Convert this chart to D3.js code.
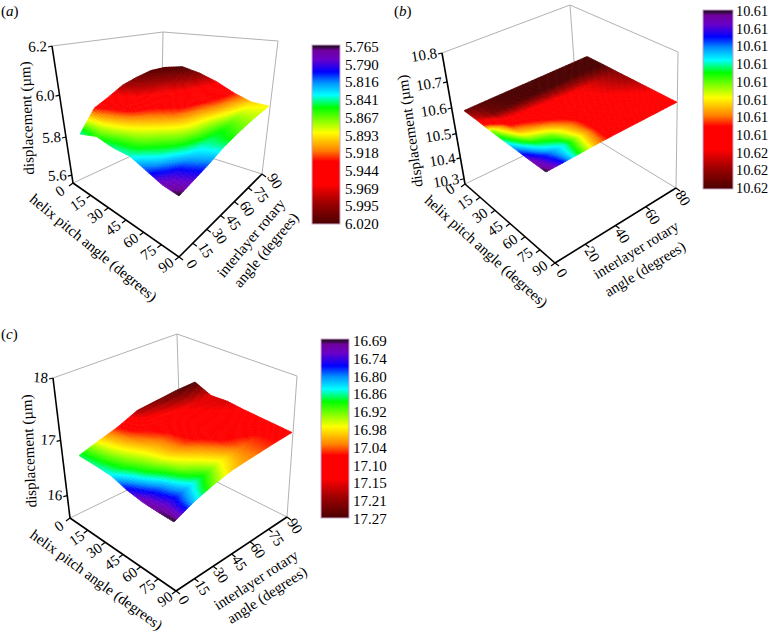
<!DOCTYPE html>
<html>
<head>
<meta charset="utf-8">
<script src="https://cdn.jsdelivr.net/npm/d3@7"></script>
<style>
  html, body { margin: 0; background: #fff; }
  svg { display: block; }
  text { font-family: "Liberation Serif", serif; font-size: 15px; fill: #000; }
</style>
</head>
<body>
<div id="chart"></div>
<script>
// Tick labels and grid positions
const helixAngles = [0, 15, 30, 45, 60, 75, 90];
const rotaryAngles = [0, 15, 30, 45, 60, 75, 90];
const rotaryAnglesB = [0, 10, 20, 30, 40, 60, 80];
const rotaryTicksB = [0, 20, 40, 60, 80];

const zTicksA = [5.6, 5.8, 6.0, 6.2];
const zTicksB = [10.3, 10.4, 10.5, 10.6, 10.7, 10.8];
const zTicksC = [16, 17, 18];

const legendA = ["5.765", "5.790", "5.816", "5.841", "5.867", "5.893", "5.918", "5.944", "5.969", "5.995", "6.020"];
const legendB = ["10.61", "10.61", "10.61", "10.61", "10.61", "10.61", "10.61", "10.61", "10.62", "10.62", "10.62"];
const legendC = ["16.69", "16.74", "16.80", "16.86", "16.92", "16.98", "17.04", "17.10", "17.15", "17.21", "17.27"];

const displacementA = [
    [5.840, 5.930, 5.958, 5.990, 6.005, 6.015, 6.010],
    [5.860, 5.900, 5.945, 5.970, 5.985, 5.998, 6.020],
    [5.844, 5.880, 5.910, 5.932, 5.955, 5.980, 6.000],
    [5.840, 5.865, 5.885, 5.915, 5.938, 5.950, 5.970],
    [5.810, 5.840, 5.865, 5.885, 5.895, 5.920, 5.930],
    [5.780, 5.800, 5.830, 5.845, 5.855, 5.875, 5.900],
    [5.765, 5.790, 5.815, 5.845, 5.865, 5.880, 5.890]
];
const displacementB = [
    [10.6195, 10.6198, 10.6200, 10.6200, 10.6200, 10.6200, 10.6200],
    [10.6180, 10.6194, 10.6198, 10.6199, 10.6200, 10.6200, 10.6200],
    [10.6142, 10.6168, 10.6172, 10.6174, 10.6176, 10.6180, 10.6192],
    [10.6130, 10.6152, 10.6160, 10.6167, 10.6172, 10.6178, 10.6188],
    [10.6118, 10.6134, 10.6142, 10.6156, 10.6168, 10.6172, 10.6182],
    [10.6106, 10.6120, 10.6130, 10.6150, 10.6168, 10.6170, 10.6176],
    [10.6100, 10.6114, 10.6135, 10.6155, 10.6168, 10.6170, 10.6172]
];
const displacementC = [
    [16.88, 16.98, 17.07, 17.20, 17.23, 17.26, 17.27],
    [16.87, 16.96, 17.04, 17.09, 17.13, 17.16, 17.16],
    [16.85, 16.93, 17.00, 17.06, 17.12, 17.14, 17.17],
    [16.77, 16.89, 16.98, 17.05, 17.10, 17.11, 17.14],
    [16.72, 16.82, 16.94, 17.00, 17.07, 17.09, 17.12],
    [16.70, 16.79, 16.87, 16.96, 17.03, 17.06, 17.10],
    [16.69, 16.83, 16.93, 17.00, 17.03, 17.06, 17.08]
];

// Rainbow colormap of the legend bars
const colorStops = [0, 0.015, 0.03, 0.08, 0.15, 0.21, 0.28, 0.35, 0.49, 0.59, 0.65, 0.78, 0.88, 1];
const colorValues = ["#1a0a1a", "#3a0a4a", "#70009c", "#6a00c8", "#0000ff", "#0090ff", "#00ffff", "#00ff00", "#ffff00", "#ff8000", "#ff0000", "#ff0000", "#a00000", "#4a0000"];

const width = 770, height = 638;

const svg = d3.select("#chart").append("svg")
    .attr("width", width)
    .attr("height", height);

const defs = svg.append("defs");

defs.append("filter")
    .attr("id", "soft")
    .append("feGaussianBlur")
    .attr("stdDeviation", 0.6);

// Layout of each panel: box corners, surface corners, legend and text placement
const panels = [
    {
        id: "a", label: [1, 16],
        h: helixAngles, r: rotaryAngles, rTicks: rotaryAngles, rMax: 90, grid: displacementA,
        zTicks: zTicksA, zFrac: [0.058, 0.336, 0.642, 1], zAngle: -3,
        hOff: [-13, 8], rOff: [13, 7],
        box: { L: [73, 183], F: [179, 257], R: [262, 174], B: [161, 142], Lt: [52, 46], Bt: [163, 32], Rt: [278, 41] },
        surf: { L: [80, 152], F: [179, 196], R: [269, 136], B: [165, 126] }, zPx: 61,
        legend: { x: 312, y0: 45, y1: 224, w: 28, labels: legendA, ly0: 47, ly1: 224, lx: 345, size: 15 },
        hTitle: { pos: [32, 197], angle: 39.5 },
        rTitle: { l1: [251, 238], l2: [266, 250], angle: -50 },
        zTitle: { pos: [27, 118], angle: -92 }
    },
    {
        id: "b", label: [394, 16],
        h: helixAngles, r: rotaryAnglesB, rTicks: rotaryTicksB, rMax: 80, grid: displacementB,
        zTicks: zTicksB, zFrac: [0.04, 0.2, 0.385, 0.58, 0.78, 1], zAngle: -9,
        hOff: [-15, 5], rOff: [7, 10],
        box: { L: [465, 184], F: [555, 263], R: [676, 188], B: [579, 129], Lt: [442, 53], Bt: [570, 5], Rt: [678, 52] },
        surf: { L: [464, 113], F: [546, 172], R: [677, 104], B: [587, 59] }, zPx: 2.5,
        legend: { x: 703, y0: 10, y1: 189, w: 30, labels: legendB, ly0: 11, ly1: 188, lx: 736, size: 14.3 },
        hTitle: { pos: [427, 198], angle: 42 },
        rTitle: { l1: [636, 250], l2: [645, 269], angle: -31.5 },
        zTitle: { pos: [410, 131], angle: -98 }
    },
    {
        id: "c", label: [1, 339],
        h: helixAngles, r: rotaryAngles, rTicks: rotaryAngles, rMax: 90, grid: displacementC,
        zTicks: zTicksC, zFrac: [0.16, 0.555, 1], zAngle: 4,
        hOff: [-11, 8], rOff: [8, 9],
        box: { L: [70, 518], F: [176, 591], R: [287, 517], B: [181, 464], Lt: [53, 378], Bt: [177, 334], Rt: [297, 376] },
        surf: { L: [79, 468], F: [174, 522], R: [292, 458], B: [195, 420] }, zPx: 38,
        legend: { x: 321, y0: 339, y1: 518, w: 28, labels: legendC, ly0: 341, ly1: 519, lx: 353, size: 15 },
        hTitle: { pos: [32, 533], angle: 36 },
        rTitle: { l1: [256, 580], l2: [267, 595], angle: -33 },
        zTitle: { pos: [29, 451], angle: -92.5 }
    }
];

const lerp = (a, b, t) => [a[0] + (b[0] - a[0]) * t, a[1] + (b[1] - a[1]) * t];

function drawPanel(p) {
    const g = svg.append("g").attr("class", "panel-" + p.id);
    const zValues = p.grid.flat();
    const zMin = d3.min(zValues), zMax = d3.max(zValues);

    // Scales
    const u = d3.scaleLinear().domain([0, 90]).range([0, 1]);
    const v = d3.scaleLinear().domain([0, p.rMax]).range([0, 1]);
    const lift = d3.scaleLinear().domain([zMin, zMax]).range([0, p.zPx]);
    const zAxis = d3.scaleLinear().domain(p.zTicks).range(p.zFrac);
    const toValue = d3.scaleLinear().domain([0, 1]).range([zMin, zMax]);
    const color = d3.scaleLinear()
        .domain(colorStops.map(toValue))
        .range(colorValues)
        .clamp(true);

    // Grey box behind the surface
    const b = p.box;
    [[b.L, b.B], [b.B, b.R], [b.Lt, b.Bt], [b.Bt, b.Rt], [b.B, b.Bt], [b.R, b.Rt]].forEach(s => {
        g.append("line")
            .attr("x1", s[0][0]).attr("y1", s[0][1])
            .attr("x2", s[1][0]).attr("y2", s[1][1])
            .attr("stroke", "#a8a8a8")
            .attr("stroke-width", 0.9);
    });

    // Surface: every grid cell is split up so the colour runs smoothly, back to front
    const s = p.surf;
    const project = (uu, vv, z) => {
        const pt = lerp(lerp(s.L, s.F, uu), lerp(s.B, s.R, uu), vv);
        return [pt[0], pt[1] - lift(z)];
    };
    const sub = 10;
    const cells = [];
    for (let i = 0; i < p.h.length - 1; i++) {
        for (let j = p.r.length - 2; j >= 0; j--) {
            const z00 = p.grid[i][j], z01 = p.grid[i][j + 1], z10 = p.grid[i + 1][j], z11 = p.grid[i + 1][j + 1];
            const zAt = (a, c) => z00 * (1 - a) * (1 - c) + z01 * (1 - a) * c + z10 * a * (1 - c) + z11 * a * c;
            const uAt = a => u(p.h[i] + (p.h[i + 1] - p.h[i]) * a);
            const vAt = c => v(p.r[j] + (p.r[j + 1] - p.r[j]) * c);
            for (let m = 0; m < sub; m++) {
                for (let n = sub - 1; n >= 0; n--) {
                    const a0 = m / sub, a1 = (m + 1) / sub, c0 = n / sub, c1 = (n + 1) / sub;
                    cells.push({
                        pts: [[a0, c0], [a0, c1], [a1, c1], [a1, c0]].map(q => project(uAt(q[0]), vAt(q[1]), zAt(q[0], q[1]))),
                        z: zAt((a0 + a1) / 2, (c0 + c1) / 2)
                    });
                }
            }
        }
    }
    g.append("g")
        .attr("filter", "url(#soft)")
        .selectAll("polygon")
        .data(cells)
        .enter()
        .append("polygon")
        .attr("points", d => d.pts.map(q => q.join(",")).join(" "))
        .attr("fill", d => color(d.z))
        .attr("stroke", d => color(d.z))
        .attr("stroke-width", 0.7)
        .attr("stroke-linejoin", "round");

    // Black axes
    [[b.L, b.Lt], [b.L, b.F], [b.F, b.R]].forEach(a => {
        g.append("line")
            .attr("x1", a[0][0]).attr("y1", a[0][1])
            .attr("x2", a[1][0]).attr("y2", a[1][1])
            .attr("stroke", "#000")
            .attr("stroke-width", 1.6);
    });

    const tick = (pt, dx, dy) => g.append("line")
        .attr("x1", pt[0]).attr("y1", pt[1])
        .attr("x2", pt[0] + dx).attr("y2", pt[1] + dy)
        .attr("stroke", "#000")
        .attr("stroke-width", 1.2);

    const label = (pt, txt, angle, anchor) => g.append("text")
        .attr("transform", `translate(${pt[0]},${pt[1]}) rotate(${angle})`)
        .attr("text-anchor", anchor || "middle")
        .attr("dominant-baseline", "central")
        .text(txt);

    // Helix pitch axis
    p.h.forEach(d => {
        const pt = lerp(b.L, b.F, u(d));
        tick(pt, -4, 3);
        label([pt[0] + p.hOff[0], pt[1] + p.hOff[1]], d, -35);
    });

    // Rotary axis
    p.rTicks.forEach(d => {
        const pt = lerp(b.F, b.R, v(d));
        tick(pt, 4, 3);
        label([pt[0] + p.rOff[0], pt[1] + p.rOff[1]], d, 58);
    });

    // Displacement axis
    p.zTicks.forEach(d => {
        const pt = lerp(b.L, b.Lt, zAxis(d));
        tick(pt, -4, 1);
        label([pt[0] - 5, pt[1]], d.toFixed(p.id === "c" ? 0 : 1), p.zAngle, "end");
    });

    // Titles
    label(p.hTitle.pos, "helix pitch angle (degrees)", p.hTitle.angle, "start");
    label(p.rTitle.l1, "interlayer rotary", p.rTitle.angle);
    label(p.rTitle.l2, "angle (degrees)", p.rTitle.angle);
    label(p.zTitle.pos, "displacement (\u00b5m)", p.zTitle.angle);

    // Panel letter
    const tag = g.append("text")
        .attr("x", p.label[0])
        .attr("y", p.label[1]);
    tag.append("tspan").text("(");
    tag.append("tspan").attr("font-style", "italic").text(p.id);
    tag.append("tspan").text(")");

    // Legend bar
    const l = p.legend;
    const grad = defs.append("linearGradient")
        .attr("id", "bar-" + p.id)
        .attr("x1", 0).attr("y1", 0)
        .attr("x2", 0).attr("y2", 1);
    colorStops.forEach((t, i) => {
        grad.append("stop")
            .attr("offset", t)
            .attr("stop-color", colorValues[i]);
    });
    g.append("rect")
        .attr("x", l.x).attr("y", l.y0)
        .attr("width", l.w).attr("height", l.y1 - l.y0)
        .attr("fill", `url(#bar-${p.id})`)
        .attr("stroke", "#c9a6c9")
        .attr("stroke-width", 1);

    const ly = d3.scaleLinear().domain([0, l.labels.length - 1]).range([l.ly0, l.ly1]);
    l.labels.forEach((d, i) => {
        label([l.lx, ly(i)], d, 0, "start").style("font-size", l.size + "px");
    });
}

panels.forEach(drawPanel);
</script>
</body>
</html>
